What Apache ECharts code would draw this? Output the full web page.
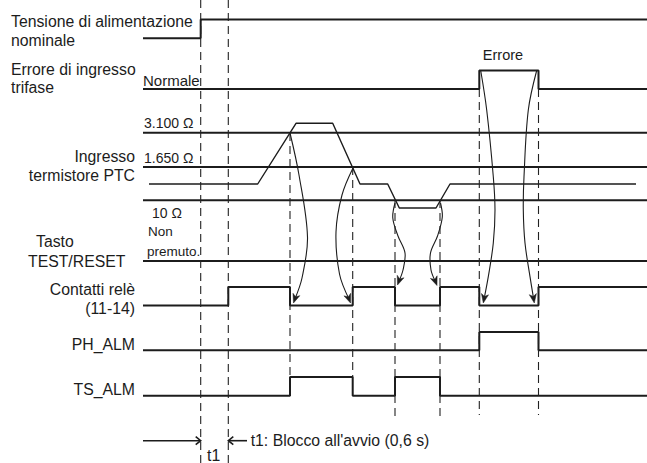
<!DOCTYPE html>
<html><head><meta charset="utf-8">
<script src="https://cdn.jsdelivr.net/npm/echarts@6/dist/echarts.min.js"></script>
<style>html,body{margin:0;padding:0;background:#fff}#c{width:647px;height:463px}</style>
</head><body><div id="c"></div>
<script>
// ---------------- data ----------------
const T0 = 143, T_END = 647;
// transition times of the digital signals (x in time units)
const supplyEdges = [200.7];
const phaseErrorEdges = [479.3, 538.5];
const relayEdges = [228.3, 290, 352.7, 395, 440, 479.3, 538.5];
const phAlmEdges = [479.3, 538.5];
const tsAlmEdges = [290, 352.7, 395, 440];
// PTC thermistor input profile
const ptcTimes  = [149, 257.7, 296, 332.7, 360, 387.7, 399.3, 436, 450, 636];
const ptcLevels = [184, 184, 123.3, 123.3, 184, 184, 208, 208, 184, 184];
const thresholdLevels = [132.7, 167, 200.3];            // 3.100 Ω, 1.650 Ω, 10 Ω
const thresholdLabels = ['3.100 Ω', '1.650 Ω', '10 Ω'];
const testResetLevel = 261;
// dashed time markers
const markerTimes  = [200.7, 228.3, 290, 352.7, 395, 440, 479.3, 538.5];
const markerTop    = [0, 0, 133, 167, 200, 200, 89, 89];
const markerBottom = [463, 463, 377, 377, 417, 417, 415, 415];
// cause → effect arrows (waypoints)
const arrows = [
  [[290,133],[299,175],[307.5,237],[302,278],[293.5,303]],
  [[353,168],[342,195],[336,232],[339.5,274],[350.5,303]],
  [[395,203],[392.8,218],[398,236],[405,253],[403,270],[397.5,285]],
  [[440.5,203],[442.3,217],[437.5,236],[430.5,253],[431,270],[437,285.5]],
  [[480.7,70.5],[486.7,110],[493.3,176.7],[495,210],[493.3,243],[488.3,276.7],[483.3,303]],
  [[536.7,70.5],[528.3,110],[524,176.7],[523.3,210],[525,243],[530,276.7],[534.3,303]]
];
const t1Arrows = [[143, 200.7], [247, 228.3]];
const t1Level = 440.7;

// ---------------- layout ----------------
const rows = {
  supply: {low: 38.3, high: 19.5},
  phase:  {low: 89,   high: 70.5},
  relay:  {low: 305.5, high: 287},
  phAlm:  {low: 350.3, high: 332},
  tsAlm:  {low: 395.7, high: 377}
};
const INK = '#1c1c1c';
const FONT = '"Liberation Sans", Arial, Helvetica, sans-serif';

function stepPoints(edges, row) {
  let s = 0;
  const lv = v => v ? row.high : row.low;
  const pts = [[T0, lv(s)]];
  edges.forEach(e => { pts.push([e, lv(s)]); s = 1 - s; pts.push([e, lv(s)]); });
  pts.push([T_END, lv(s)]);
  return pts;
}
function lineSeries(data, width, extra) {
  return Object.assign({
    type: 'line', data: data, symbol: 'none', silent: true, animation: false,
    lineStyle: {color: INK, width: width}
  }, extra || {});
}

const series = [];
series.push(lineSeries(stepPoints(supplyEdges, rows.supply), 2));
series.push(lineSeries(stepPoints(phaseErrorEdges, rows.phase), 2));
series.push(lineSeries(stepPoints(relayEdges, rows.relay), 2));
series.push(lineSeries(stepPoints(phAlmEdges, rows.phAlm), 2));
series.push(lineSeries(stepPoints(tsAlmEdges, rows.tsAlm), 2));
thresholdLevels.forEach(l => series.push(lineSeries([[T0, l], [T_END, l]], 2)));
series.push(lineSeries([[T0, testResetLevel], [T_END, testResetLevel]], 2));
series.push(lineSeries(ptcTimes.map((t, i) => [t, ptcLevels[i]]), 1.4));
markerTimes.forEach((t, i) => series.push(lineSeries([[t, markerTop[i]], [t, markerBottom[i]]], 1,
  {lineStyle: {color: '#222', width: 1.1, type: [8, 5]}})));

// curved arrows
series.push({
  type: 'custom', silent: true, animation: false,
  data: arrows.map((a, i) => [i]),
  renderItem: function (params, api) {
    const a = arrows[api.value(0)];
    const pts = a.map(p => api.coord(p));
    const n = pts.length;
    const end = pts[n - 1], prev = pts[n - 2];
    let dx = end[0] - prev[0], dy = end[1] - prev[1];
    const len = Math.hypot(dx, dy); dx /= len; dy /= len;
    const L = 9, w = 3.6;
    const bx = end[0] - dx * L, by = end[1] - dy * L;
    const nx = -dy, ny = dx;
    const linePts = pts.slice(0, n - 1).concat([[end[0] - dx * 4, end[1] - dy * 4]]);
    return {
      type: 'group',
      children: [
        {type: 'polyline', shape: {points: linePts, smooth: 0.35},
         style: {stroke: INK, lineWidth: 1.1, fill: null}},
        {type: 'polygon', shape: {points: [end, [bx + nx * w, by + ny * w],
          [end[0] - dx * (L - 2.5), end[1] - dy * (L - 2.5)], [bx - nx * w, by - ny * w]]},
         style: {fill: INK, stroke: INK, lineWidth: 0.5}}
      ]
    };
  }
});
// t1 arrows
series.push({
  type: 'custom', silent: true, animation: false,
  data: t1Arrows.map((a, i) => [i]),
  renderItem: function (params, api) {
    const a = t1Arrows[api.value(0)];
    const p0 = api.coord([a[0], t1Level]), p1 = api.coord([a[1], t1Level]);
    const dir = p1[0] > p0[0] ? 1 : -1;
    return {
      type: 'group',
      children: [
        {type: 'line', shape: {x1: p0[0], y1: p0[1], x2: p1[0], y2: p1[1]},
         style: {stroke: INK, lineWidth: 1.6}},
        {type: 'polyline', shape: {points: [[p1[0] - dir * 5, p1[1] - 4], [p1[0], p1[1]], [p1[0] - dir * 5, p1[1] + 4]]},
         style: {stroke: INK, lineWidth: 1.6, fill: null}}
      ]
    };
  }
});

// ---------------- texts ----------------
const texts = [
  ['Tensione di alimentazione', 11, 21.8, 'left', 15.8],
  ['nominale', 11, 40.8, 'left', 15.8],
  ['Errore di ingresso', 11, 69.7, 'left', 15.8],
  ['trifase', 11, 87.6, 'left', 15.8],
  ['Normale', 143, 80.3, 'left', 15],
  ['Errore', 503, 55, 'center', 14.5],
  [thresholdLabels[0], 144, 123.3, 'left', 14],
  [thresholdLabels[1], 144, 158.3, 'left', 14],
  [thresholdLabels[2], 152, 212.5, 'left', 14],
  ['Ingresso', 135, 156.2, 'right', 15.8],
  ['termistore PTC', 135, 175.3, 'right', 15.8],
  ['Non', 148, 231.8, 'left', 13.5],
  ['premuto.', 147, 251.5, 'left', 13.5],
  ['Tasto', 36, 241.5, 'left', 15.8],
  ['TEST/RESET', 28, 261.2, 'left', 15.8],
  ['Contatti relè', 135, 289.2, 'right', 15.8],
  ['(11-14)', 135, 308.5, 'right', 15.8],
  ['PH_ALM', 135, 344.2, 'right', 15.8],
  ['TS_ALM', 135, 389.2, 'right', 15.8],
  ["t1: Blocco all'avvio (0,6 s)", 250.7, 440.5, 'left', 15.8],
  ['t1', 207, 455, 'left', 15.8]
];
const graphic = texts.map(t => ({
  type: 'text', x: t[1], y: t[2], silent: true,
  style: {text: t[0], fill: INK, font: t[4] + 'px ' + FONT,
    align: t[3], textAlign: t[3], verticalAlign: 'middle', textVerticalAlign: 'middle'}
}));

const chart = echarts.init(document.getElementById('c'), null, {renderer: 'svg', width: 647, height: 463});
chart.setOption({
  animation: false,
  backgroundColor: '#fff',
  grid: {left: 0, right: 0, top: 0, bottom: 0},
  xAxis: {type: 'value', min: 0, max: 647, show: false},
  yAxis: {type: 'value', min: 0, max: 463, inverse: true, show: false},
  series: series,
  graphic: graphic
});
</script></body></html>
